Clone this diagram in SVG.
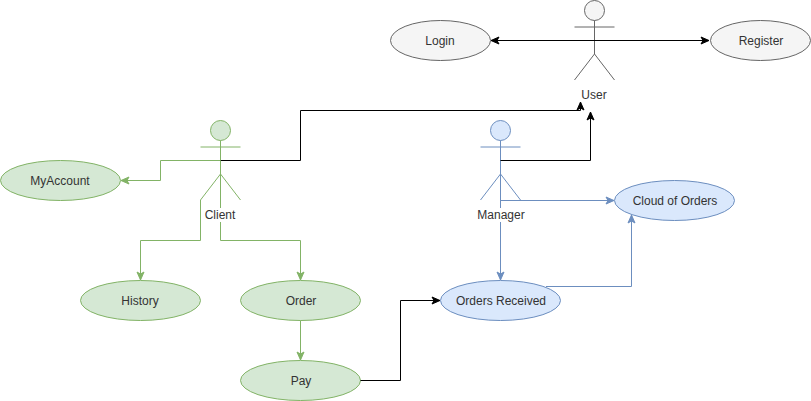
<svg xmlns="http://www.w3.org/2000/svg" width="811" height="401" viewBox="0 0 811 401">
<style>
text{font-family:"Liberation Sans",Arial,sans-serif;font-size:12px;fill:#333;text-anchor:middle}
.c{fill:none;stroke-width:1}
.k{stroke:#000}.g{stroke:#82b366}.b{stroke:#6c8ebf}
.eg{fill:#d5e8d4;stroke:#82b366}.eb{fill:#dae8fc;stroke:#6c8ebf}.ea{fill:#f5f5f5;stroke:#666}
.lg{fill:none;stroke:#82b366}.lb{fill:none;stroke:#6c8ebf}.la{fill:none;stroke:#666}
</style>
<defs>
<marker id="mk" markerUnits="userSpaceOnUse" markerWidth="12" markerHeight="12" refX="10" refY="6" orient="auto-start-reverse" overflow="visible"><path d="M2 2.5L10 6L2 9.500L4 6Z" fill="#000" stroke="#000"/></marker>
<marker id="mg" markerUnits="userSpaceOnUse" markerWidth="12" markerHeight="12" refX="10" refY="6" orient="auto" overflow="visible"><path d="M2 2.500L10 6L2 9.500L4 6Z" fill="#82b366" stroke="#82b366"/></marker>
<marker id="mb" markerUnits="userSpaceOnUse" markerWidth="12" markerHeight="12" refX="10" refY="6" orient="auto" overflow="visible"><path d="M2 2.500L10 6L2 9.500L4 6Z" fill="#6c8ebf" stroke="#6c8ebf"/></marker>
</defs>
<g id="user"><circle class="ea" cx="594.500" cy="10.500" r="10"/><path class="la" d="M594.500 20.500V54M574.500 27H614.500M574.500 80L594.500 54L614.500 80"/><text x="594" y="99">User</text></g>
<g id="client"><circle class="eg" cx="220.500" cy="130.500" r="10"/><path class="lg" d="M220.500 140.500V174M200.500 147H240.500M200.500 200L220.500 174L240.500 200"/></g>
<g id="manager"><circle class="eb" cx="500.500" cy="130.500" r="10"/><path class="lb" d="M500.500 140.500V174M480.500 147H520.500M480.500 200L500.500 174L520.500 200"/></g>
<g id="login"><ellipse class="ea" cx="440.500" cy="40.500" rx="50" ry="20"/><text x="440" y="45">Login</text></g>
<g id="register"><ellipse class="ea" cx="760.500" cy="40.500" rx="50" ry="20"/><text x="761" y="45">Register</text></g>
<g id="myaccount"><ellipse class="eg" cx="60.500" cy="180.500" rx="60" ry="20"/><text x="60" y="185">MyAccount</text></g>
<g id="history"><ellipse class="eg" cx="140.500" cy="300.500" rx="60" ry="20"/><text x="140" y="305">History</text></g>
<g id="order"><ellipse class="eg" cx="300.500" cy="300.500" rx="60" ry="20"/><text x="301" y="305">Order</text></g>
<g id="pay"><ellipse class="eg" cx="300.500" cy="380.500" rx="60" ry="20"/><text x="301" y="385">Pay</text></g>
<g id="orders-received"><ellipse class="eb" cx="500.500" cy="300.500" rx="60" ry="20"/><text x="501" y="305">Orders Received</text></g>
<g id="cloud"><ellipse class="eb" cx="674.500" cy="200.500" rx="60" ry="20"/><text x="675" y="205">Cloud of Orders</text></g>
<g id="connectors">
<path class="c k" d="M491 40.500H709" marker-start="url(#mk)" marker-end="url(#mk)"/>
<path class="c k" d="M220.500 160.500H300.500V110.500H580.500V102" marker-end="url(#mk)"/>
<path class="c k" d="M500.500 160.500H590.500V112" marker-end="url(#mk)"/>
<path class="c k" d="M360.500 380.500H400.500V300.500H440" marker-end="url(#mk)"/>
<path class="c g" d="M220.500 160.500H160.500V180.500H121" marker-end="url(#mg)"/>
<path class="c g" d="M200.500 200V240.500H140.500V280" marker-end="url(#mg)"/>
<path class="c g" d="M220.500 174V240.500H300.500V280" marker-end="url(#mg)"/>
<path class="c g" d="M300.500 320.500V360" marker-end="url(#mg)"/>
<path class="c b" d="M500.500 200.500H614" marker-end="url(#mb)"/>
<path class="c b" d="M500.500 174V280" marker-end="url(#mb)"/>
<path class="c b" d="M546 286.500H631.500V215" marker-end="url(#mb)"/>
</g>
<g id="labels"><rect x="204" y="208" width="33" height="14" fill="#fff"/><text x="220" y="219">Client</text><rect x="477" y="208" width="48" height="14" fill="#fff"/><text x="501" y="219">Manager</text></g>
</svg>
